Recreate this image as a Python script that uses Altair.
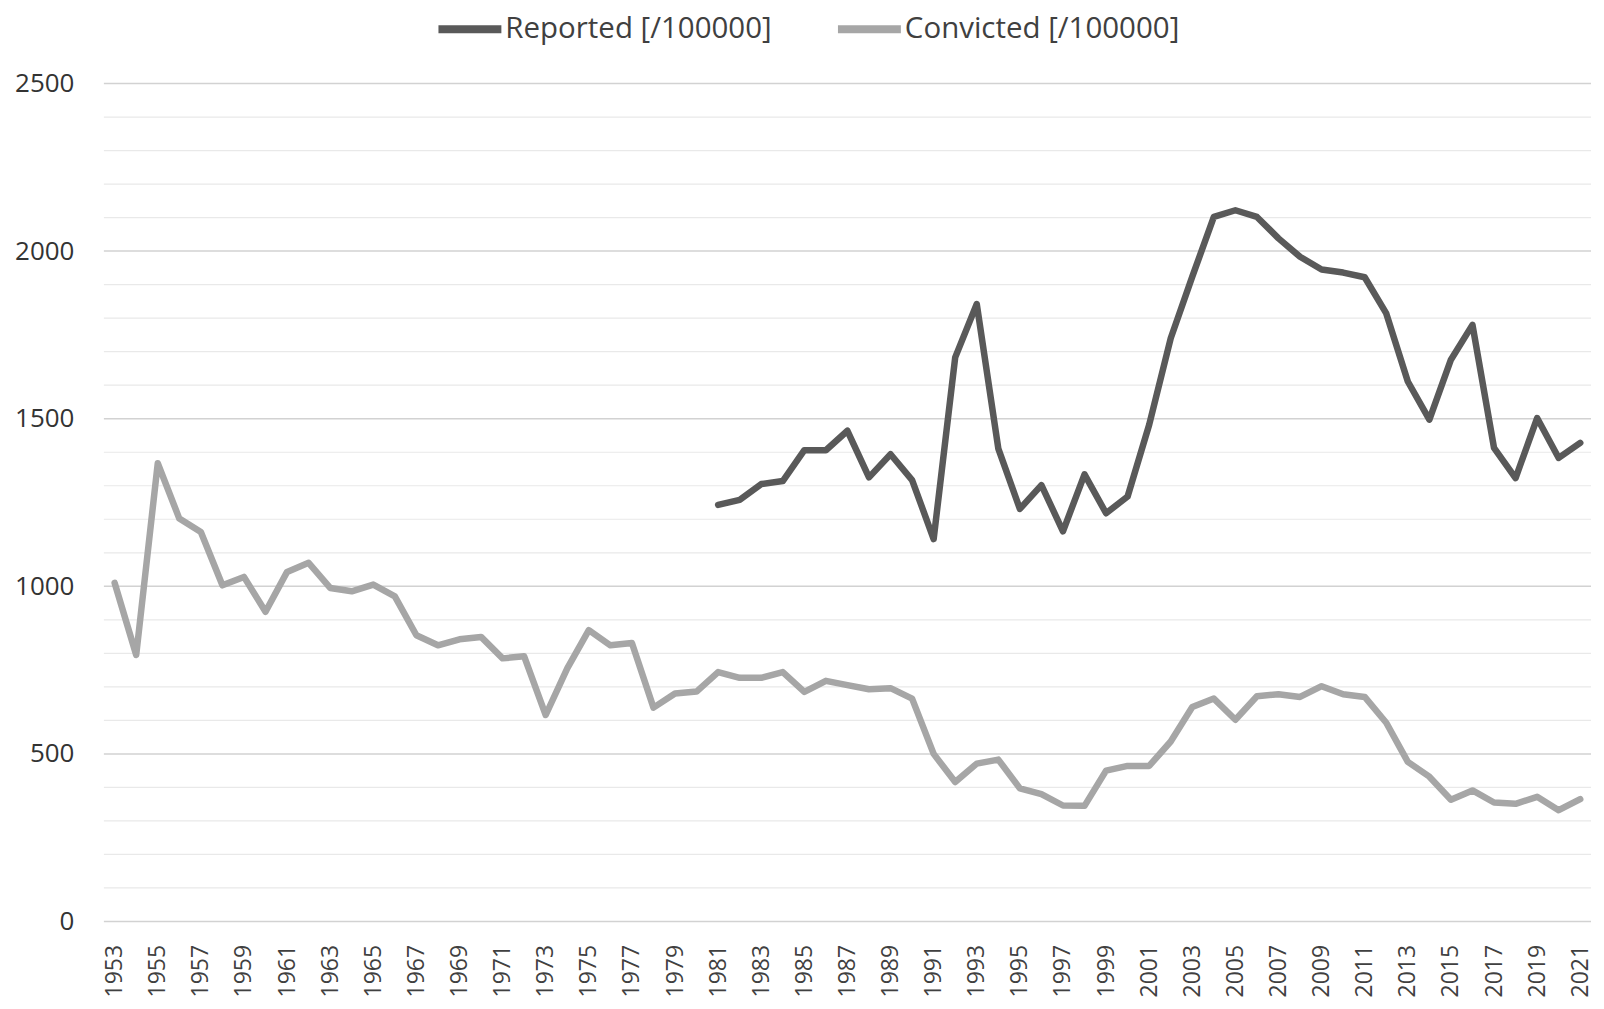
import altair as alt
import pandas as pd

years = list(range(1953, 2022))
convicted = [1010, 795, 1367, 1202, 1162, 1003, 1028, 924, 1043, 1070,
             995, 985, 1005, 970, 854, 824, 842, 849, 785, 791,
             616, 755, 869, 824, 831, 638, 680, 686, 744, 727,
             727, 744, 685, 718, 705, 693, 696, 665, 500, 416,
             471, 483, 397, 380, 346, 345, 450, 464, 464, 537,
             640, 665, 602, 672, 678, 670, 702, 678, 670, 593,
             476, 432, 363, 391, 355, 351, 372, 332, 365]
reported_years = list(range(1981, 2022))
reported = [1243, 1258, 1305, 1314, 1406, 1406, 1464, 1325, 1394, 1317,
            1141, 1683, 1842, 1411, 1231, 1302, 1164, 1334, 1218, 1268,
            1482, 1740, 1924, 2102, 2122, 2102, 2038, 1983, 1945, 1936,
            1922, 1814, 1611, 1497, 1676, 1780, 1413, 1323, 1502, 1383, 1428]
series_names = ["Reported [/100000]", "Convicted [/100000]"]
series_colors = ["#595959", "#a6a6a6"]
x_tick_years = list(range(1953, 2022, 2))
y_label_values = [0, 500, 1000, 1500, 2000, 2500]
grid_values = list(range(0, 2501, 100))

rows = []
for y, v in zip(reported_years, reported):
    rows.append({"year": y, "value": v, "series": series_names[0]})
for y, v in zip(years, convicted):
    rows.append({"year": y, "value": v, "series": series_names[1]})
df = pd.DataFrame(rows)
grid_df = pd.DataFrame({"value": grid_values,
                        "major": [g % 500 == 0 for g in grid_values]})

y_scale = alt.Scale(domain=[0, 2500], nice=False)
y_axis = alt.Axis(values=y_label_values, labelFont="Open Sans", labelFontSize=26,
                  labelColor="#333333", labelPadding=30, ticks=False,
                  domain=False, grid=False, format="d")

grid = alt.Chart(grid_df).mark_rule().encode(
    y=alt.Y("value:Q", scale=y_scale, title=None, axis=y_axis),
    color=alt.condition("datum.major", alt.value("#d2d2d2"), alt.value("#e9e9e9")),
    strokeWidth=alt.condition("datum.major", alt.value(1.5), alt.value(1.2)),
)

lines = alt.Chart(df).mark_line(strokeWidth=6.5, strokeJoin="round", strokeCap="round").encode(
    x=alt.X("year:O", title=None,
            scale=alt.Scale(domain=years, type="point", padding=0.5),
            axis=alt.Axis(values=x_tick_years, labelAngle=-90, labelFont="Open Sans",
                          labelFontSize=23, labelColor="#404040", labelPadding=23,
                          ticks=False, domain=False, grid=False, labelAlign="right",
                          labelBaseline="middle")),
    y=alt.Y("value:Q", scale=y_scale, title=None, axis=y_axis),
    color=alt.Color("series:N", sort=series_names,
                    scale=alt.Scale(domain=series_names, range=series_colors),
                    legend=alt.Legend(title=None, orient="none", direction="horizontal",
                                      legendX=331, legendY=-90, symbolType="stroke",
                                      symbolSize=3969, symbolStrokeWidth=8,
                                      labelFont="Open Sans", labelFontSize=29.5,
                                      labelColor="#404040", labelOffset=0,
                                      columnPadding=50, padding=0, labelLimit=500)),
    order=alt.Order("year:O"),
)

chart = alt.layer(grid, lines).resolve_scale(color="independent").properties(
    width=1489, height=839,
    background="white",
    autosize=alt.AutoSizeParams(type="none"),
    padding={"left": 96, "top": 75, "right": 5, "bottom": 80},
).configure_view(
    strokeWidth=0, stroke="transparent"
)

chart.save("out.html", embed_options={"renderer": "svg", "actions": False})
